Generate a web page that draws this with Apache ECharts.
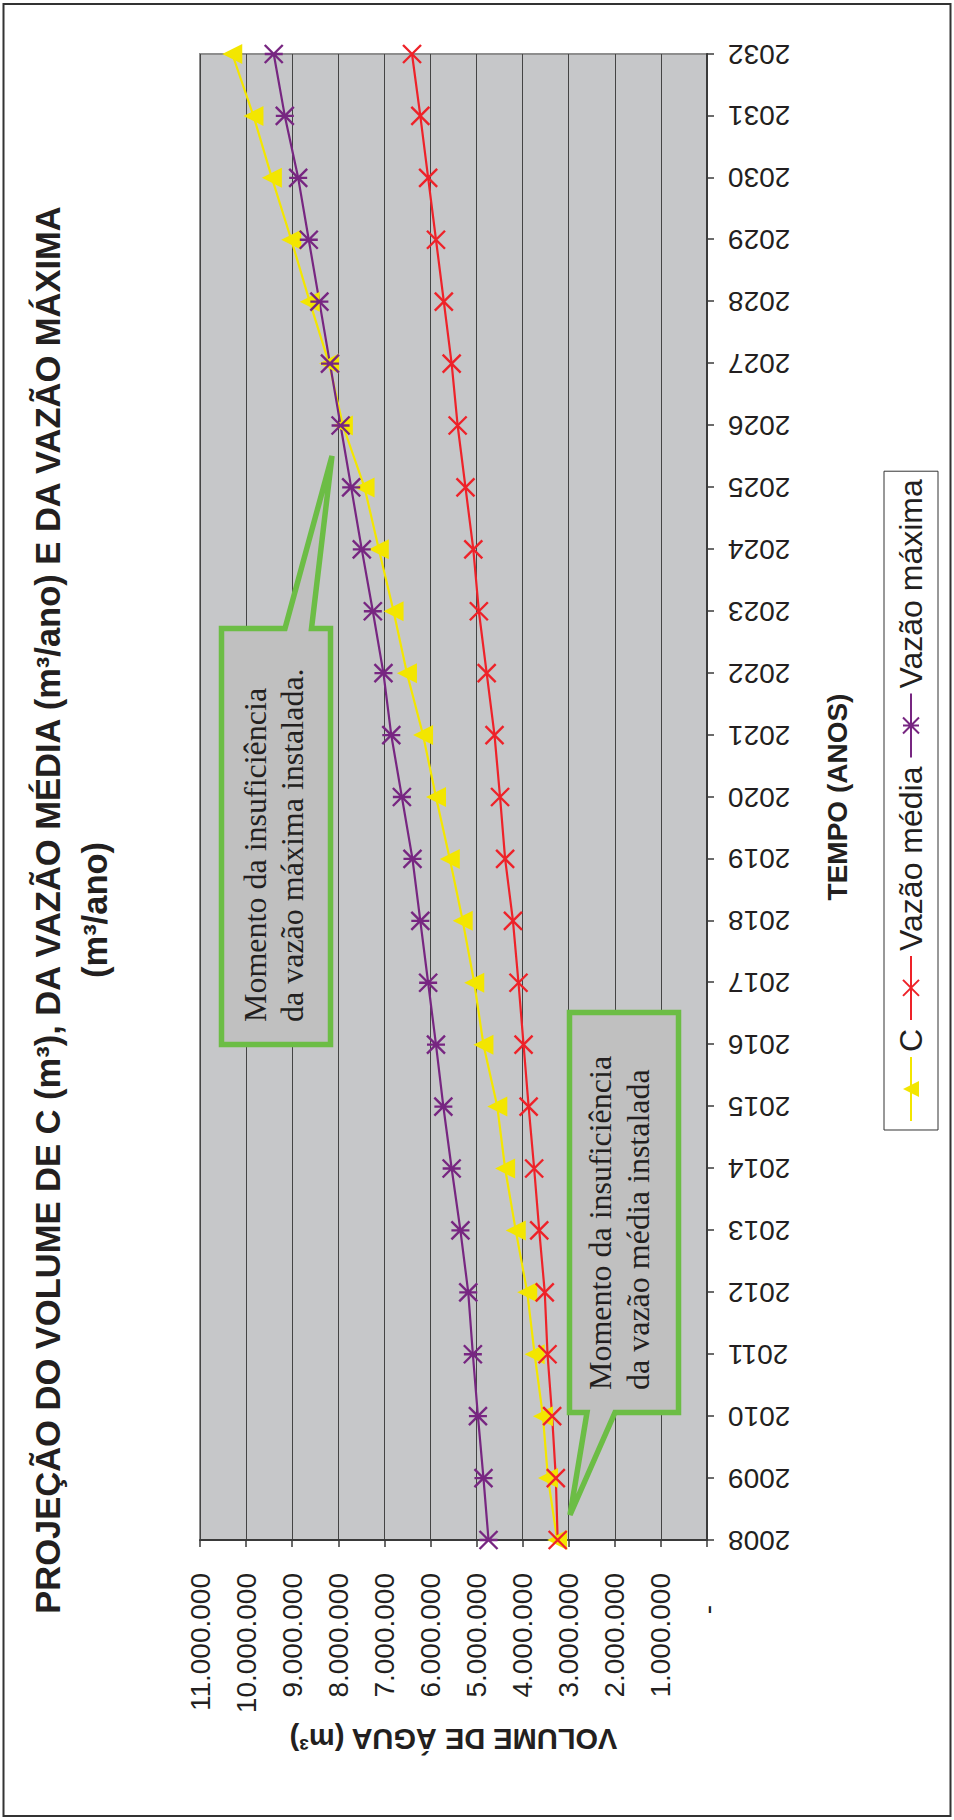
<!DOCTYPE html>
<html>
<head>
<meta charset="utf-8">
<title>Projeção do volume de C e das vazões</title>
<script src="https://cdn.jsdelivr.net/npm/echarts@6.0.0/dist/echarts.min.js"></script>
<style>
  html, body { margin: 0; padding: 0; width: 954px; height: 1820px; overflow: hidden; background: #fff; }
  /* the chart is laid out landscape and turned a quarter to the left, like the printed page */
  #chart { position: absolute; left: 0; top: 0; width: 1820px; height: 954px;
           transform-origin: 0 0; transform: translateY(1820px) rotate(-90deg); }
</style>
</head>
<body>
<div id="chart"></div>
<script>
// anos da projeção
var anos = ['2008', '2009', '2010', '2011', '2012', '2013', '2014', '2015', '2016', '2017', '2018', '2019', '2020',
  '2021', '2022', '2023', '2024', '2025', '2026', '2027', '2028', '2029', '2030', '2031', '2032']

// volume de C (m3)
var volumeC = [3250000, 3450000, 3560000, 3740000, 3900000, 4150000, 4380000, 4550000, 4850000, 5050000,
  5300000, 5580000, 5880000, 6160000, 6510000, 6800000, 7120000, 7430000, 7900000, 8200000,
  8620000, 9020000, 9440000, 9840000, 10300000]

// vazão média (m3/ano)
var vazaoMedia = [3240000, 3280000, 3360000, 3460000, 3520000, 3640000, 3750000, 3870000, 3980000, 4090000,
  4210000, 4380000, 4490000, 4610000, 4780000, 4950000, 5070000, 5240000, 5410000, 5540000,
  5710000, 5880000, 6050000, 6220000, 6400000]

// vazão máxima (m3/ano)
var vazaoMaxima = [4740000, 4850000, 4970000, 5080000, 5180000, 5350000, 5540000, 5720000, 5880000, 6050000,
  6220000, 6390000, 6620000, 6850000, 7020000, 7250000, 7490000, 7720000, 7950000, 8180000,
  8410000, 8640000, 8870000, 9160000, 9400000]

var valorMax = 11000000
var passo = 1000000

var preto = '#231f20'
var sans = '"Liberation Sans", Arial, sans-serif'
var serif = '"Liberation Serif", "Times New Roman", serif'

function milhar(v) {
  if (v === 0) {
    return '{traco|-}'
  }
  return String(v).replace(/\B(?=(\d{3})+(?!\d))/g, '.')
}

var chart = echarts.init(document.getElementById('chart'), null, { renderer: 'svg' })

function serie(nome, dados, cor, simbolo, tamanho) {
  return {
    name: nome,
    type: 'line',
    data: dados,
    symbol: simbolo,
    symbolSize: tamanho,
    showAllSymbol: true,
    smooth: false,
    lineStyle: { color: cor, width: 2.2 },
    itemStyle: { color: cor, borderColor: cor, borderWidth: simbolo === 'triangle' ? 0 : 2.4 },
    emphasis: { disabled: true }
  }
}

chart.setOption({
  animation: false,
  backgroundColor: '#ffffff',
  title: {
    text: 'PROJEÇÃO DO VOLUME DE C (m³), DA VAZÃO MÉDIA (m³/ano) E DA VAZÃO MÁXIMA\n(m³/ano)',
    left: 'center',
    top: 19,
    textStyle: { fontFamily: sans, fontSize: 34.5, fontWeight: 'bold', color: preto, lineHeight: 47 }
  },
  legend: {
    data: ['C', 'Vazão média', 'Vazão máxima'],
    left: 690,
    top: 884,
    padding: [11, 8],
    itemGap: 8,
    itemWidth: 64,
    itemHeight: 20,
    borderColor: '#333333',
    borderWidth: 1,
    textStyle: { fontFamily: sans, fontSize: 32, color: preto }
  },
  grid: {
    left: 280,
    right: 54,
    top: 200,
    bottom: 247,
    show: true,
    backgroundColor: '#c6c7c9',
    borderColor: '#8e8e8e',
    borderWidth: 2
  },
  xAxis: {
    type: 'category',
    data: anos,
    boundaryGap: false,
    name: 'TEMPO (ANOS)',
    nameLocation: 'middle',
    nameGap: 116,
    nameTextStyle: { fontFamily: sans, fontSize: 28, fontWeight: 'bold', color: preto },
    axisLine: { lineStyle: { color: '#3a3a3a', width: 2 } },
    axisTick: { show: true, length: 7, lineStyle: { color: '#3a3a3a', width: 1.5 } },
    axisLabel: { interval: 0, rotate: 90, margin: 21, fontFamily: sans, fontSize: 28, color: preto },
    splitLine: { show: false }
  },
  yAxis: {
    type: 'value',
    min: 0,
    max: valorMax,
    interval: passo,
    name: 'VOLUME DE ÁGUA (m³)',
    nameLocation: 'middle',
    nameGap: 150,
    nameTextStyle: { fontFamily: sans, fontSize: 29, fontWeight: 'bold', color: preto },
    axisLine: { show: true, lineStyle: { color: '#3a3a3a', width: 2 } },
    axisTick: { show: true, length: 7, lineStyle: { color: '#3a3a3a', width: 1.5 } },
    axisLabel: {
      margin: 33,
      fontFamily: sans,
      fontSize: 28,
      color: preto,
      formatter: milhar,
      rich: { traco: { fontFamily: sans, fontSize: 28, color: preto, padding: [0, 32, 0, 0] } }
    },
    splitLine: { lineStyle: { color: '#444444', width: 1 } }
  },
  series: [
    serie('C', volumeC, '#f3e600', 'triangle', 20),
    serie('Vazão média', vazaoMedia, '#ee2229', 'path://M0,0L10,10M10,0L0,10', 18),
    serie('Vazão máxima', vazaoMaxima, '#772681', 'path://M0,0L10,10M10,0L0,10M5,0L5,10', 18)
  ],
  graphic: [
    // moldura da página
    { type: 'rect', z: 50, shape: { x: 4, y: 3.5, width: 1812, height: 947 },
      style: { fill: 'none', stroke: '#333333', lineWidth: 2 } },
    // balão: vazão máxima
    { type: 'polygon', z: 60,
      shape: { points: [[1191.5, 221.5], [1191.5, 285], [1364, 332], [1191.5, 311.5], [1191.5, 330.5],
        [775.5, 330.5], [775.5, 221.5]] },
      style: { fill: '#c0c0c0', stroke: '#6cbd45', lineWidth: 5.5, lineJoin: 'miter' } },
    { type: 'text', z: 61, x: 798, y: 273,
      style: { text: 'Momento da insuficiência\nda vazão máxima instalada.', font: '32px ' + serif,
        fill: preto, align: 'left', verticalAlign: 'middle', lineHeight: 37 } },
    // balão: vazão média
    { type: 'polygon', z: 60,
      shape: { points: [[807.5, 569.5], [807.5, 678.5], [407.5, 678.5], [407.5, 615], [305, 570],
        [407.5, 587], [407.5, 569.5]] },
      style: { fill: '#c0c0c0', stroke: '#6cbd45', lineWidth: 5.5, lineJoin: 'miter' } },
    { type: 'text', z: 61, x: 430, y: 619,
      style: { text: 'Momento da insuficiência\nda vazão média instalada', font: '32px ' + serif,
        fill: preto, align: 'left', verticalAlign: 'middle', lineHeight: 38 } }
  ]
})
</script>
</body>
</html>
